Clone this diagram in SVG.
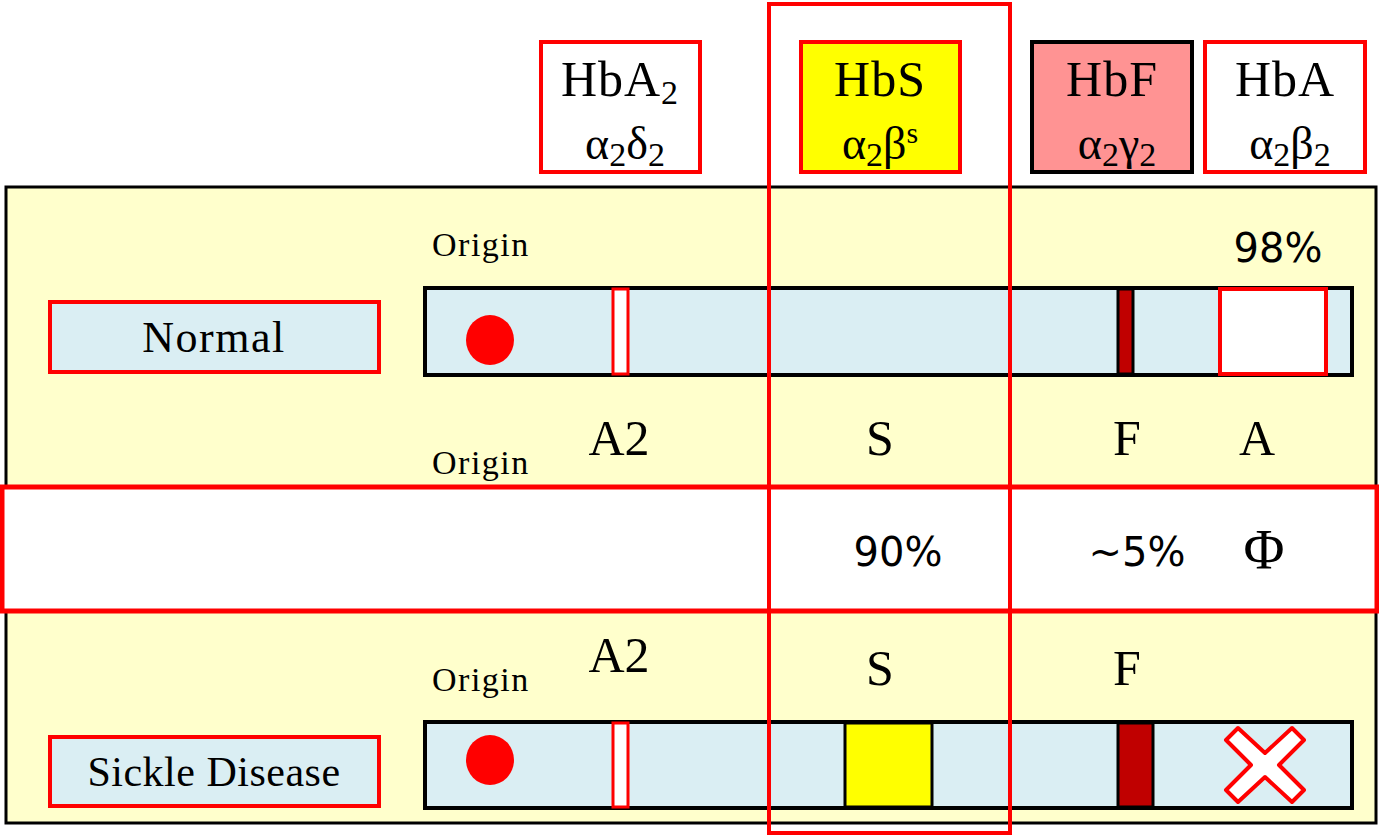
<svg xmlns="http://www.w3.org/2000/svg" width="1379" height="836" viewBox="0 0 1379 836">
<style>
.serif{font-family:"Liberation Serif","DejaVu Serif",serif;fill:#000}
.sans{font-family:"DejaVu Sans","Liberation Sans",sans-serif;fill:#000}
.hdr{font-size:50px;text-anchor:middle;letter-spacing:1px}
.greek{font-size:46px;text-anchor:middle}
.sub{font-size:34px}
.lbl{font-size:50px;text-anchor:middle}
.origin{font-size:34px;letter-spacing:1.5px}
.pct{font-size:40px;text-anchor:middle}
.lane{fill:#DAEEF3;stroke:#000;stroke-width:4}
.namebox{fill:#DAEEF3;stroke:#FF0000;stroke-width:4}
.redband{fill:#FFFFFF;stroke:#FF0000;stroke-width:3}
</style>
<rect id="panel" x="6" y="187" width="1370" height="636" fill="#FFFFCC" stroke="#000" stroke-width="3"/>

<g id="hbA2">
<rect x="541" y="42" width="159" height="130" fill="#FFFFFF" stroke="#FF0000" stroke-width="4"/>
<text class="serif hdr" x="620" y="96">HbA<tspan class="sub" dy="8">2</tspan></text>
<text class="serif greek" x="625" y="159">α<tspan class="sub" dy="7">2</tspan><tspan dy="-7">δ</tspan><tspan class="sub" dy="7">2</tspan></text>
</g>
<g id="hbS">
<rect x="801" y="42" width="159" height="130" fill="#FFFF00" stroke="#FF0000" stroke-width="4"/>
<text class="serif hdr" x="880" y="96">HbS</text>
<text class="serif greek" x="880" y="159">α<tspan class="sub" dy="7">2</tspan><tspan dy="-7">β</tspan><tspan font-size="30" dy="-16">s</tspan></text>
</g>
<g id="hbF">
<rect x="1032" y="42" width="160" height="130" fill="#FF9393" stroke="#000" stroke-width="4"/>
<text class="serif hdr" x="1112" y="96">HbF</text>
<text class="serif greek" x="1117" y="159">α<tspan class="sub" dy="7">2</tspan><tspan dy="-7">γ</tspan><tspan class="sub" dy="7">2</tspan></text>
</g>
<g id="hbA">
<rect x="1205" y="42" width="160" height="130" fill="#FFFFFF" stroke="#FF0000" stroke-width="4"/>
<text class="serif hdr" x="1285" y="96">HbA</text>
<text class="serif greek" x="1290" y="159">α<tspan class="sub" dy="7">2</tspan><tspan dy="-7">β</tspan><tspan class="sub" dy="7">2</tspan></text>
</g>

<g id="normal">
<text class="serif origin" x="432" y="256">Origin</text>
<text class="sans pct" x="1278" y="262">98%</text>
<rect class="namebox" x="50" y="302" width="329" height="70"/>
<text class="serif" x="214" y="352" font-size="44" letter-spacing="1.5" text-anchor="middle">Normal</text>
<rect class="lane" x="425" y="288" width="927" height="87"/>
<ellipse cx="490" cy="340" rx="24" ry="25" fill="#FF0000"/>
<rect class="redband" x="613" y="289" width="15" height="85"/>
<rect x="1118" y="289" width="15" height="85" fill="#C00000" stroke="#000" stroke-width="3"/>
<rect x="1220" y="289" width="106" height="85" fill="#FFFFFF" stroke="#FF0000" stroke-width="4"/>
</g>

<g id="labels-mid">
<text class="serif lbl" x="619" y="455">A2</text>
<text class="serif lbl" x="880" y="455">S</text>
<text class="serif lbl" x="1127" y="455">F</text>
<text class="serif lbl" x="1257" y="455">A</text>
<text class="serif origin" x="432" y="474">Origin</text>
</g>

<g id="band-row">
<rect x="2" y="487" width="1375" height="124" fill="#FFFFFF" stroke="#FF0000" stroke-width="5"/>
<text class="sans" x="898" y="566" font-size="40" text-anchor="middle">90%</text>
<text class="sans" x="1137" y="566" font-size="40" text-anchor="middle">~5%</text>
<text class="serif" x="1264" y="569" font-size="56" text-anchor="middle">Φ</text>
</g>

<g id="sickle">
<text class="serif lbl" x="619" y="672">A2</text>
<text class="serif lbl" x="880" y="685">S</text>
<text class="serif lbl" x="1127" y="685">F</text>
<text class="serif origin" x="432" y="691">Origin</text>
<rect class="namebox" x="50" y="737" width="329" height="69"/>
<text class="serif" x="214" y="786" font-size="42" letter-spacing="0.5" text-anchor="middle">Sickle Disease</text>
<rect class="lane" x="425" y="722" width="927" height="86"/>
<ellipse cx="490" cy="760" rx="24" ry="25" fill="#FF0000"/>
<rect class="redband" x="613" y="723" width="15" height="84"/>
<rect x="845" y="723" width="87" height="84" fill="#FFFF00" stroke="#000" stroke-width="3"/>
<rect x="1118" y="723" width="35" height="84" fill="#C00000" stroke="#000" stroke-width="3"/>
<polygon points="1238,728 1265,753 1292,728 1304,740 1279,765 1304,790 1292,802 1265,777 1238,802 1226,790 1251,765 1226,740" fill="#FFFFFF" stroke="#FF0000" stroke-width="4" stroke-linejoin="round"/>
</g>

<g id="connectors">
<rect x="769" y="4" width="241" height="829" fill="none" stroke="#FF0000" stroke-width="4"/>
</g>
</svg>
